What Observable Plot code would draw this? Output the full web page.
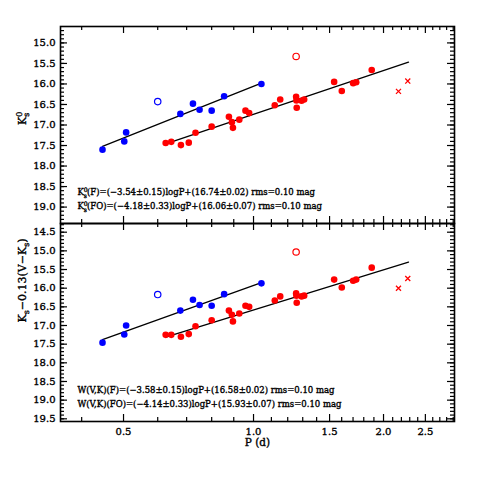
<!DOCTYPE html>
<html><head><meta charset="utf-8">
<script src="https://cdn.jsdelivr.net/npm/d3@7"></script>
<script src="https://cdn.jsdelivr.net/npm/@observablehq/plot@0.6"></script>
<style>body{margin:0;background:#fff} #chart svg{display:block;overflow:visible} #chart svg text{stroke:#000;stroke-width:0.35px}</style>
</head><body><div id="chart"></div><script>
// ---- data ----
const xTicks = [0.5, 1.0, 1.5, 2.0, 2.5];
const xMinorTicks = [0.4,0.6,0.7,0.8,0.9,1.1,1.2,1.3,1.4,1.6,1.7,1.8,1.9,2.1,2.2,2.3,2.4,2.6,2.7,2.8,2.9];
const yTicksTop = [15.0,15.5,16.0,16.5,17.0,17.5,18.0,18.5,19.0];
const yTicksBottom = [14.5,15.0,15.5,16.0,16.5,17.0,17.5,18.0,18.5,19.0,19.5];

// First overtone (blue)
const foP = [0.447, 0.502, 0.507, 0.677, 0.724, 0.750, 0.800, 0.855, 1.043];
const foK = [17.60, 17.40, 17.18, 16.73, 16.48, 16.63, 16.65, 16.30, 16.00];
const foW = [17.46, 17.24, 17.00, 16.60, 16.31, 16.45, 16.47, 16.16, 15.87];
const foOpenP = [0.600], foOpenK = [16.43], foOpenW = [16.17];

// Fundamental (red)
const fP = [0.626,0.645,0.679,0.708,0.734,0.800,0.877,0.891,0.896,0.927,0.958,0.977,1.120,1.153,1.255,1.257,1.259,1.292,1.310,1.537,1.601,1.701,1.729,1.878];
const fK = [17.44,17.41,17.49,17.43,17.19,17.04,16.80,16.93,17.07,16.87,16.65,16.71,16.52,16.38,16.31,16.40,16.58,16.41,16.38,15.95,16.17,15.98,15.96,15.66];
const fW = [17.25,17.25,17.30,17.23,17.02,16.86,16.60,16.71,16.89,16.68,16.47,16.50,16.33,16.22,16.14,16.20,16.39,16.22,16.20,15.77,15.98,15.80,15.77,15.45];
const fOpenP = [1.255], fOpenK = [15.33], fOpenW = [15.03];
const crossP = [2.166, 2.276], crossK = [16.18, 15.93], crossW = [16.00, 15.74];

// fit-line endpoints
const fitFOP = [0.447, 1.043], fitFOK = [17.52, 15.98], fitFOW = [17.38, 15.85];
const fitFP = [0.626, 2.285], fitFK = [17.46, 15.47], fitFW = [17.31, 15.30];

const notesTop = ["K§(F)=(−3.54±0.15)logP+(16.74±0.02) rms=0.10 mag",
                  "K§(FO)=(−4.18±0.33)logP+(16.06±0.07) rms=0.10 mag"];
const notesBottom = ["W(V,K)(F)=(−3.58±0.15)logP+(16.58±0.02) rms=0.10 mag",
                     "W(V,K)(FO)=(−4.14±0.33)logP+(15.93±0.07) rms=0.10 mag"];
const notesX = 0.391;
const notesYTop = [18.65, 18.98];
const notesYBottom = [18.73, 19.12];

// ---- drawing ----
const BLUE = "#0000ff", RED = "#ff0000";
const W = 480, ML = 60, MR = 26, FW = W - ML - MR;
const xDomain = [0.3573, 2.92];
const rows = (P, M) => P.map((p, i) => ({P: p, m: M[i]}));
const minorOf = (a, b) => d3.range(Math.round(a*10), Math.round(b*10)+1).map(v => v/10);

function panel({height, marginTop, marginBottom, yDomain, yTicks, key, label, notes, notesY, showX}) {
  const FH = height - marginTop - marginBottom;
  const yMinor = minorOf(yDomain[0] + 0.0001, yDomain[1]).filter(v => v > yDomain[0] && v < yDomain[1]);
  const K = key === "K";
  const marks = [
    Plot.ruleX(xTicks, {insetTop: FH - 7, strokeWidth: 1.2}),
    Plot.ruleX(xMinorTicks, {insetTop: FH - 4, strokeWidth: 1.2}),
    Plot.ruleX(xTicks, {insetBottom: FH - 7, strokeWidth: 1.2}),
    Plot.ruleX(xMinorTicks, {insetBottom: FH - 4, strokeWidth: 1.2}),
    Plot.ruleY(yTicks, {insetRight: FW - 7, strokeWidth: 1.2}),
    Plot.ruleY(yMinor, {insetRight: FW - 4, strokeWidth: 1.2}),
    Plot.ruleY(yTicks, {insetLeft: FW - 7, strokeWidth: 1.2}),
    Plot.ruleY(yMinor, {insetLeft: FW - 4, strokeWidth: 1.2}),
    Plot.axisY({ticks: yTicks, tickSize: 0, tickPadding: 5, tickFormat: d3.format(".1f"), label: null, fontSize: 10}),
    Plot.line(rows(fitFOP, K ? fitFOK : fitFOW), {x: "P", y: "m", stroke: "black", strokeWidth: 1.3}),
    Plot.line(rows(fitFP, K ? fitFK : fitFW), {x: "P", y: "m", stroke: "black", strokeWidth: 1.3}),
    Plot.dot(rows(foP, K ? foK : foW), {x: "P", y: "m", fill: BLUE, r: 3.3}),
    Plot.dot(rows(fP, K ? fK : fW), {x: "P", y: "m", fill: RED, r: 3.3}),
    Plot.dot(rows(foOpenP, K ? foOpenK : foOpenW), {x: "P", y: "m", fill: "none", stroke: BLUE, strokeWidth: 1.2, r: 3.2}),
    Plot.dot(rows(fOpenP, K ? fOpenK : fOpenW), {x: "P", y: "m", fill: "none", stroke: RED, strokeWidth: 1.2, r: 3.2}),
    Plot.dot(rows(crossP, K ? crossK : crossW), {x: "P", y: "m", symbol: "times", stroke: RED, strokeWidth: 1.3, r: 2.4}),
    Plot.text(notes, {x: () => notesX, y: (d, i) => notesY[i], text: d => d, textAnchor: "start", lineAnchor: "middle", fontSize: 8.5, className: "rich"}),
    Plot.text([label], {frameAnchor: "left", dx: -38, rotate: -90, text: d => d, fontSize: 11, className: "rich"}),
    Plot.frame({stroke: "black", strokeWidth: 1.6})
  ];
  if (showX) {
    marks.push(Plot.axisX({ticks: xTicks, tickSize: 0, tickPadding: 6, tickFormat: d3.format(".1f"), label: null, fontSize: 10}));
    marks.push(Plot.text(["P (d)"], {frameAnchor: "bottom", dy: 24, text: d => d, fontSize: 10.5}));
  }
  return Plot.plot({
    width: W, height, marginLeft: ML, marginRight: MR, marginTop, marginBottom,
    style: {fontFamily: "DejaVu Serif", fontSize: "10px", background: "white", overflow: "visible"},
    x: {type: "log", domain: xDomain, axis: showX ? undefined : null},
    y: {domain: yDomain, reverse: true},
    marks
  });
}

function rich(svg) {
  d3.select(svg).selectAll("text").each(function() {
    const t = this.textContent;
    if (!/§|_s/.test(t)) return;
    const g = this.closest("[font-size]");
    const fs = parseFloat(g ? g.getAttribute("font-size") : 10);
    const el = d3.select(this);
    el.text(null);
    let cur = 0;
    const span = (s, off, size, dx) => {
      const sp = el.append("tspan").text(s).attr("dy", (off - cur) + "px");
      if (size) sp.attr("font-size", size);
      if (dx) sp.attr("dx", dx);
      cur = off;
    };
    for (const p of t.split(/(§|_s)/)) {
      if (!p) continue;
      if (p === "§") {
        const s = fs * 0.72;
        span("0", -fs * 0.38, s);
        span("s", fs * 0.3, s, -s * 0.62);
      } else if (p === "_s") {
        span("s", fs * 0.3, fs * 0.72);
      } else span(p, 0);
    }
  });
}

const topPanel = panel({height: 223, marginTop: 26, marginBottom: 0, yDomain: [14.6, 19.4], yTicks: yTicksTop,
  key: "K", label: "K§", notes: notesTop, notesY: notesYTop, showX: false});
const bottomPanel = panel({height: 257, marginTop: 0, marginBottom: 59, yDomain: [14.267, 19.572], yTicks: yTicksBottom,
  key: "W", label: "K_s−0.13(V−K_s)", notes: notesBottom, notesY: notesYBottom, showX: true});
rich(topPanel); rich(bottomPanel);
const chartDiv = document.getElementById("chart");
chartDiv.appendChild(topPanel); chartDiv.appendChild(bottomPanel);
</script></body></html>
